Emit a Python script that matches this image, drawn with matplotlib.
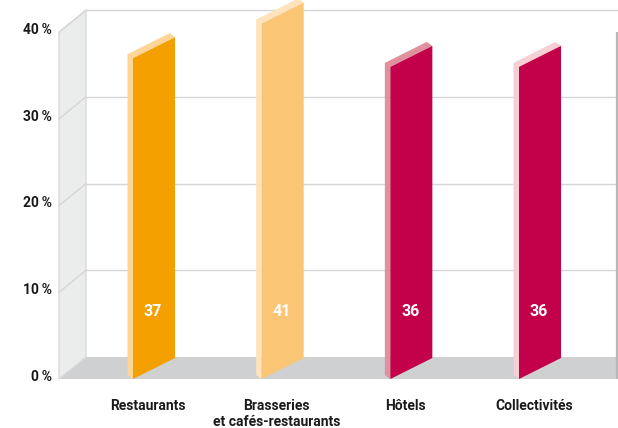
import matplotlib
matplotlib.use("Agg")
import matplotlib.pyplot as plt
from matplotlib.patches import Polygon

# --- data -------------------------------------------------------------
categories = ["Restaurants", "Brasseries\net cafés-restaurants", "Hôtels", "Collectivités"]
values = [37, 41, 36, 36]
value_labels = ["37", "41", "36", "36"]
y_ticks = [0, 10, 20, 30, 40]
y_tick_labels = ["0\u2009%", "10\u2009%", "20\u2009%", "30\u2009%", "40\u2009%"]

face_colors = ["#F4A000", "#FBC576", "#C3004A", "#C3004A"]
edge_colors = ["#FDD597", "#FEE3BC", "#DF929E", "#F4CFD4"]

# --- layout (axis units: x = category slot, y = percent) ---------------
PX_X = 128.67          # pixels per category slot
PX_Y = 8.67            # pixels per percent
W, H = 618, 428

fig = plt.figure(figsize=(W / 100, H / 100), dpi=100)
ax = fig.add_axes([0, 0, 1, 1])
x_left = -148 / PX_X
ax.set_xlim(x_left, x_left + W / PX_X)
ax.set_ylim(-(H - 379) / PX_Y, 379 / PX_Y)
ax.axis("off")

font = ["Roboto", "DejaVu Sans"]

# depth of the box (wall/floor) and of the bar panels
wall_dx, wall_dy = 27 / PX_X, 22 / PX_Y
bar_dx, bar_dy = 42 / PX_X, 21 / PX_Y
thick_dx, thick_dy = -5.5 / PX_X, 4.0 / PX_Y

x_front = (59 - 148) / PX_X
x_back = x_front + wall_dx
x_right = x_left + W / PX_X + 0.1
top = max(y_ticks)
grid_col = "#D6D6D6"

# floor
ax.add_patch(Polygon([(x_front, 0), (x_back, wall_dy), (x_right, wall_dy), (x_right, 0)],
                     closed=True, facecolor="#CFD0D2", edgecolor="none", zorder=1))
# left wall
ax.add_patch(Polygon([(x_front, 0), (x_back, wall_dy), (x_back, top + wall_dy), (x_front, top)],
                     closed=True, facecolor="#EBECEC", edgecolor="#D9DADA", lw=1.0, zorder=1))

# gridlines on back wall and left wall
for v in y_ticks[1:]:
    ax.plot([x_back, x_right], [v + wall_dy, v + wall_dy], color=grid_col, lw=1.0, zorder=2)
    ax.plot([x_front, x_back], [v, v + wall_dy], color=grid_col, lw=1.0, zorder=2)

# right edge of the box
x_edge = (617 - 148) / PX_X
ax.plot([x_edge, x_edge], [0, top], color="#B8B8B8", lw=1.6, zorder=2, solid_capstyle="butt")

# bars as slanted panels
for k, (v, fc, ec) in enumerate(zip(values, face_colors, edge_colors)):
    x0 = k - 15 / PX_X
    x1 = x0 + bar_dx
    A, B, C, D = (x0, 0), (x1, bar_dy), (x1, v + bar_dy), (x0, v)
    shift = lambda p: (p[0] + thick_dx, p[1] + thick_dy)
    ax.add_patch(Polygon([A, shift(A), shift(D), shift(C), C, D], closed=True,
                         facecolor=ec, edgecolor="none", zorder=3))
    ax.add_patch(Polygon([A, B, C, D], closed=True, facecolor=fc, edgecolor="none", zorder=4))
    ax.text(k + 5 / PX_X, 7.75, value_labels[k], color="white", fontsize=11.5,
            fontweight="bold", family=font, ha="center", va="center", zorder=5)

# y tick labels
for v, lab in zip(y_ticks, y_tick_labels):
    ax.text((52 - 148) / PX_X, v + 0.25, lab, fontsize=10, fontweight="bold",
            family=font, color="#1A1A1A", ha="right", va="center")

# category labels, one line at a time
for k, lab in enumerate(categories):
    for i, line in enumerate(lab.split("\n")):
        ax.text(k, -(410.5 + 16 * i - 379) / PX_Y, line, fontsize=10, fontweight="bold",
                family=font, color="#1A1A1A", ha="center", va="baseline")

fig.savefig("out.png", dpi=100)
